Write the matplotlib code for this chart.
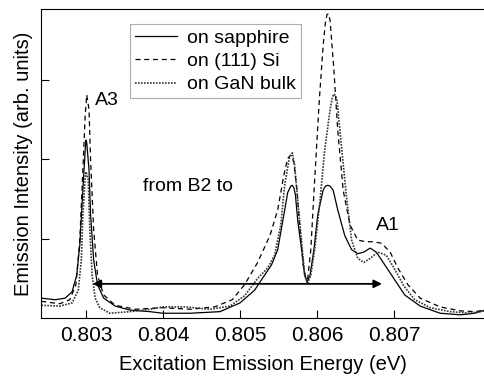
import numpy as np
import matplotlib
matplotlib.use('Agg')
import matplotlib.pyplot as plt

plt.rcParams['font.family'] = ['Liberation Sans', 'DejaVu Sans']

# on sapphire (solid)
e_sap = [0.80242, 0.80260, 0.80273, 0.80282, 0.80288, 0.80292, 0.80296, 0.80299, 0.80300, 0.80301,
         0.80304, 0.80306, 0.80310, 0.80315, 0.80323, 0.80338, 0.80357, 0.80383, 0.80400, 0.80435,
         0.80474, 0.80500, 0.80519, 0.80532, 0.80541, 0.80549, 0.80557, 0.80562, 0.80566, 0.80568,
         0.80570, 0.80572, 0.80575, 0.80581, 0.80584, 0.80587, 0.80591, 0.80596, 0.80601, 0.80608,
         0.80611, 0.80614, 0.80617, 0.80621, 0.80627, 0.80636, 0.80645, 0.80653, 0.80661, 0.80669,
         0.80677, 0.80688, 0.80701, 0.80714, 0.80734, 0.80760, 0.80786, 0.80805, 0.80818]
i_sap = [0.25, 0.23, 0.25, 0.33, 0.54, 0.92, 1.61, 2.11, 2.24, 2.21,
         1.86, 1.30, 0.73, 0.42, 0.25, 0.15, 0.10, 0.08, 0.06, 0.06,
         0.08, 0.19, 0.35, 0.54, 0.67, 0.86, 1.30, 1.58, 1.66, 1.67,
         1.64, 1.55, 1.23, 0.79, 0.54, 0.45, 0.54, 0.86, 1.30, 1.61,
         1.66, 1.67, 1.66, 1.61, 1.36, 1.04, 0.86, 0.81, 0.83, 0.88,
         0.83, 0.67, 0.48, 0.29, 0.15, 0.06, 0.04, 0.06, 0.10]

# on (111) Si (dashed)
e_si = [0.80242, 0.80266, 0.80279, 0.80287, 0.80292, 0.80296, 0.80299, 0.80301, 0.80304, 0.80306,
        0.80310, 0.80315, 0.80323, 0.80338, 0.80364, 0.80400, 0.80435, 0.80467, 0.80490, 0.80506,
        0.80523, 0.80539, 0.80549, 0.80557, 0.80562, 0.80566, 0.80570, 0.80574, 0.80578, 0.80582,
        0.80586, 0.80588, 0.80592, 0.80597, 0.80603, 0.80608, 0.80611, 0.80613, 0.80615, 0.80617,
        0.80622, 0.80627, 0.80634, 0.80643, 0.80653, 0.80664, 0.80674, 0.80684, 0.80695, 0.80705,
        0.80718, 0.80734, 0.80760, 0.80786, 0.80805, 0.80818]
i_si = [0.21, 0.18, 0.23, 0.42, 0.98, 1.86, 2.55, 2.81, 2.62, 1.99,
        1.11, 0.54, 0.29, 0.16, 0.11, 0.13, 0.11, 0.14, 0.23, 0.42,
        0.70, 1.04, 1.36, 1.80, 2.01, 2.05, 1.96, 1.61, 1.11, 0.67,
        0.48, 0.50, 0.86, 1.74, 2.74, 3.43, 3.72, 3.82, 3.83, 3.75,
        3.12, 2.36, 1.61, 1.17, 0.98, 0.96, 0.96, 0.94, 0.83, 0.63,
        0.42, 0.25, 0.14, 0.09, 0.08, 0.10]

# on GaN bulk (dotted)
e_gan = [0.80242, 0.80266, 0.80282, 0.80290, 0.80294, 0.80296, 0.80299, 0.80300, 0.80303, 0.80305,
         0.80308, 0.80312, 0.80318, 0.80331, 0.80357, 0.80383, 0.80400, 0.80429, 0.80461, 0.80487,
         0.80506, 0.80523, 0.80536, 0.80545, 0.80553, 0.80558, 0.80564, 0.80568, 0.80571, 0.80575,
         0.80581, 0.80584, 0.80588, 0.80592, 0.80597, 0.80604, 0.80610, 0.80617, 0.80620, 0.80622,
         0.80624, 0.80626, 0.80631, 0.80638, 0.80645, 0.80653, 0.80661, 0.80669, 0.80679, 0.80690,
         0.80700, 0.80713, 0.80727, 0.80747, 0.80773, 0.80799, 0.80818]
i_gan = [0.16, 0.15, 0.19, 0.35, 0.73, 1.30, 1.76, 1.84, 1.74, 1.11,
         0.54, 0.25, 0.13, 0.06, 0.08, 0.11, 0.14, 0.14, 0.11, 0.15,
         0.28, 0.50, 0.63, 0.79, 1.17, 1.67, 2.01, 2.08, 1.92, 1.48,
         0.86, 0.54, 0.44, 0.54, 0.86, 1.48, 2.11, 2.62, 2.78, 2.82,
         2.80, 2.74, 2.24, 1.55, 0.98, 0.75, 0.70, 0.75, 0.83, 0.79,
         0.63, 0.40, 0.23, 0.13, 0.08, 0.06, 0.09]

xticks = [0.803, 0.804, 0.805, 0.806, 0.807]
arrow_ends = [0.80305, 0.80688]; arrow_y = 0.43

fig = plt.figure(figsize=(4.85, 3.78), dpi=100)
ax = fig.add_axes([0.0845, 0.1587, 0.9155, 0.8175])
ax.plot(e_sap, i_sap, 'k-', lw=0.9, label='on sapphire')
ax.plot(e_si, i_si, 'k', ls=(0, (4, 3)), lw=0.9, label='on (111) Si')
ax.plot(e_gan, i_gan, color='#333333', ls=(0, (1, 0.8)), lw=1.2, label='on GaN bulk')

ax.annotate('', xy=(arrow_ends[0], arrow_y), xytext=(arrow_ends[1], arrow_y),
            arrowprops=dict(arrowstyle='<|-|>', color='k', lw=1.3, mutation_scale=12))
ax.text(0.80312, 2.74, 'A3', fontsize=14, va='center')
ax.text(0.80374, 1.65, 'from B2 to', fontsize=14, va='center')
ax.text(0.80676, 1.17, 'A1', fontsize=14, va='center')

ax.set_xlim(0.802416, 0.808182)
ax.set_ylim(0, 3.89)
ax.set_xticks(xticks)
ax.set_xticklabels([str(t) for t in xticks])
ax.set_yticks([1, 2, 3])
ax.set_yticklabels([])
ax.tick_params(direction='in', length=6, labelsize=15, pad=6)
ax.spines['right'].set_visible(False)
ax.set_xlabel('Excitation Emission Energy (eV)', fontsize=14.5, labelpad=7)
ax.set_ylabel('Emission Intensity (arb. units)', fontsize=14.5, labelpad=0)

leg = ax.legend(loc='upper left', bbox_to_anchor=(0.2, 0.951), fontsize=14, frameon=True,
                fancybox=False, handlelength=2.2, handletextpad=0.5, borderpad=0.25,
                labelspacing=0.3, borderaxespad=0)
leg.get_frame().set_edgecolor('#999999')
leg.get_frame().set_linewidth(0.8)

fig.savefig('out.png', dpi=100)
